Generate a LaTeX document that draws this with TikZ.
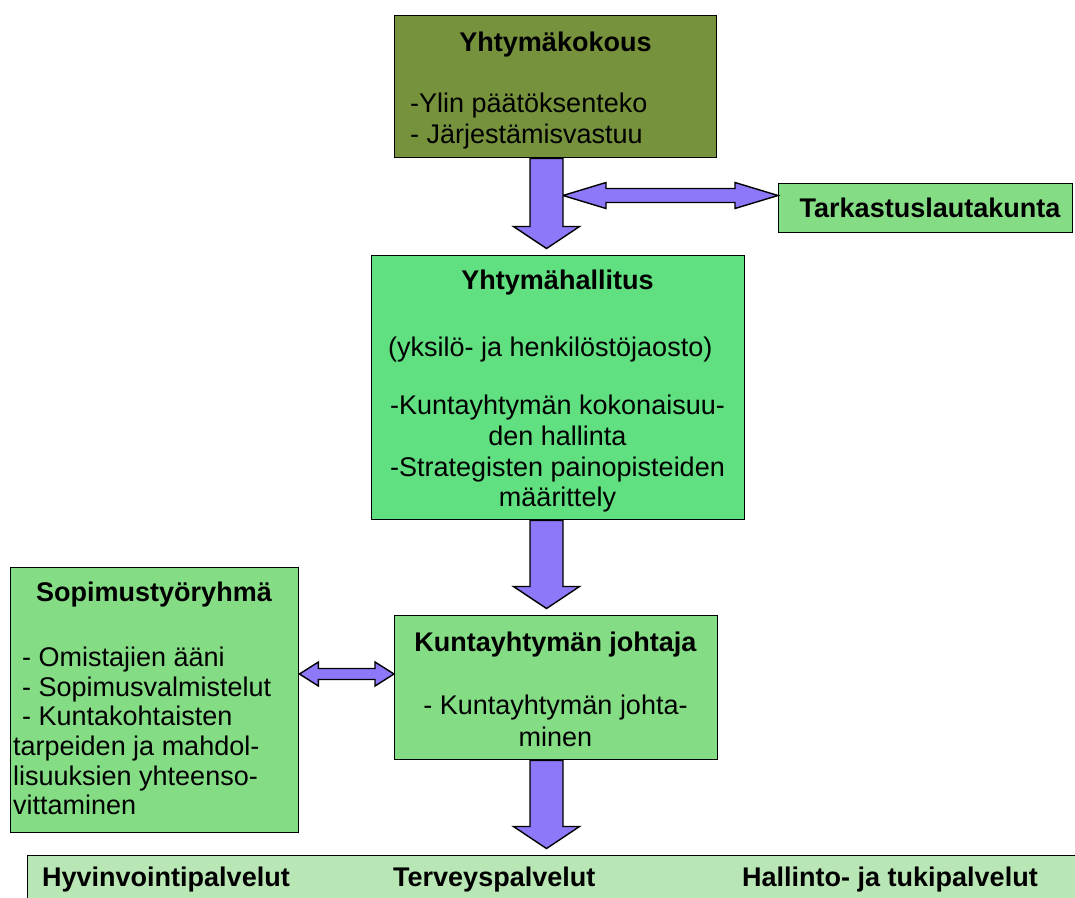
\documentclass[tikz,border=0pt]{standalone}
\usepackage{fontspec}
\setmainfont{Liberation Sans}
\usetikzlibrary{calc}

\definecolor{olivebox}{RGB}{118,146,60}
\definecolor{boardgreen}{RGB}{96,224,128}
\definecolor{softgreen}{RGB}{132,220,132}
\definecolor{palegreen}{RGB}{184,230,180}
\definecolor{arrowviolet}{RGB}{140,120,248}

\tikzset{
  orgbox/.style={draw=black, line width=1.4pt, inner sep=0pt, anchor=north west},
  blk/.style={draw=black, line width=1.4pt, fill=arrowviolet, line join=miter},
  txt/.style={inner sep=0pt, anchor=base, font=\fontsize{27}{31}\selectfont},
  txtl/.style={txt, anchor=base west},
  ttl/.style={txt, font=\fontsize{27}{31}\selectfont\bfseries},
  ttll/.style={ttl, anchor=base west},
}

% vertical block arrow from the bottom of #1 down to just above #2
\newcommand\vblock[2]{%
  \draw[blk] ($(ax |- #1.south)+(-16.5,0)$) -- ($(ax |- #2.north)+(-16.5,-28.5)$)
    -- ($(ax |- #2.north)+(-33,-28.5)$) -- ($(ax |- #2.north)+(0,-6.5)$)
    -- ($(ax |- #2.north)+(33,-28.5)$) -- ($(ax |- #2.north)+(16.5,-28.5)$)
    -- ($(ax |- #1.south)+(16.5,0)$) -- cycle;}

% horizontal double block arrow between #1 and #2; #3 head length, #4 head half height, #5 shaft half height
\newcommand\hblock[5]{%
  \draw[blk] (#1) -- ($(#1)+(#3,-#4)$) -- ($(#1)+(#3,-#5)$) -- ($(#2)+(-#3,-#5)$)
    -- ($(#2)+(-#3,-#4)$) -- (#2) -- ($(#2)+(-#3,#4)$) -- ($(#2)+(-#3,#5)$)
    -- ($(#1)+(#3,#5)$) -- ($(#1)+(#3,#4)$) -- cycle;}

\begin{document}
\begin{tikzpicture}[x=1pt, y=-1pt]
\useasboundingbox (0,0) rectangle (1075,897);

% boxes
\node[orgbox, fill=olivebox, minimum width=322pt, minimum height=142pt] (kok) at (394,15) {};
\node[orgbox, fill=softgreen, minimum width=294pt, minimum height=49pt] (tark) at (778,183) {};
\node[orgbox, fill=boardgreen, minimum width=373pt, minimum height=264pt] (hal) at (371,255) {};
\node[orgbox, fill=softgreen, minimum width=288pt, minimum height=265pt] (sop) at (10,567) {};
\node[orgbox, fill=softgreen, minimum width=323pt, minimum height=144pt] (joh) at (394,615) {};
\node[orgbox, fill=palegreen, minimum width=1070pt, minimum height=60pt] (pal) at (27,855) {};

% texts
\node[ttl] (kokT) at (555.5,51.5) {Yhtymäkokous};
\node[txtl] (kok1) at (410,112.5) {-Ylin päätöksenteko};
\node[txtl] (kok2) at (410,143.5) {- Järjestämisvastuu};

\node[ttl] (tarkT) at (930,217) {Tarkastuslautakunta};

\node[ttl] (halT) at (557.5,289.5) {Yhtymähallitus};
\node[txtl] (hal0) at (388,356.5) {(yksilö- ja henkilöstöjaosto)};
\node[txt] (hal1) at (557.5,414.5) {-Kuntayhtymän kokonaisuu-};
\node[txt] (hal2) at (557.5,445.5) {den hallinta};
\node[txt] (hal3) at (557.5,476) {-Strategisten painopisteiden};
\node[txt] (hal4) at (557.5,506.5) {määrittely};

\node[ttl] (sopT) at (154,601.5) {Sopimustyöryhmä};
\node[txtl] (sop1) at (22,666.5) {- Omistajien ääni};
\node[txtl] (sop2) at (22,696) {- Sopimusvalmistelut};
\node[txtl] (sop3) at (22,725.5) {- Kuntakohtaisten};
\node[txtl] (sop4) at (13,755.5) {tarpeiden ja mahdol-};
\node[txtl] (sop5) at (13,785) {lisuuksien yhteenso-};
\node[txtl] (sop6) at (13,814.5) {vittaminen};

\node[ttl] (johT) at (555.5,651.5) {Kuntayhtymän johtaja};
\node[txt] (joh1) at (555.5,714.5) {- Kuntayhtymän johta-};
\node[txt] (joh2) at (555.5,746.5) {minen};

\node[ttll] (p1) at (42,886.5) {Hyvinvointipalvelut};
\node[ttll] (p2) at (393,886.5) {Terveyspalvelut};
\node[ttll] (p3) at (742,886.5) {Hallinto- ja tukipalvelut};

% arrows
\coordinate (ax) at (546.5,0);
\coordinate (a1r) at (563,195.5);
\coordinate (tarkin) at (tark.west |- a1r);
\coordinate (ly) at (0,674);
\coordinate (sopout) at (sop.east |- ly);
\coordinate (johin) at (joh.west |- ly);

\hblock{a1r}{tarkin}{43}{13}{7}
\vblock{kok}{hal}
\vblock{hal}{joh}
\vblock{joh}{pal}
\hblock{sopout}{johin}{19}{12}{5.5}
\end{tikzpicture}
\end{document}
